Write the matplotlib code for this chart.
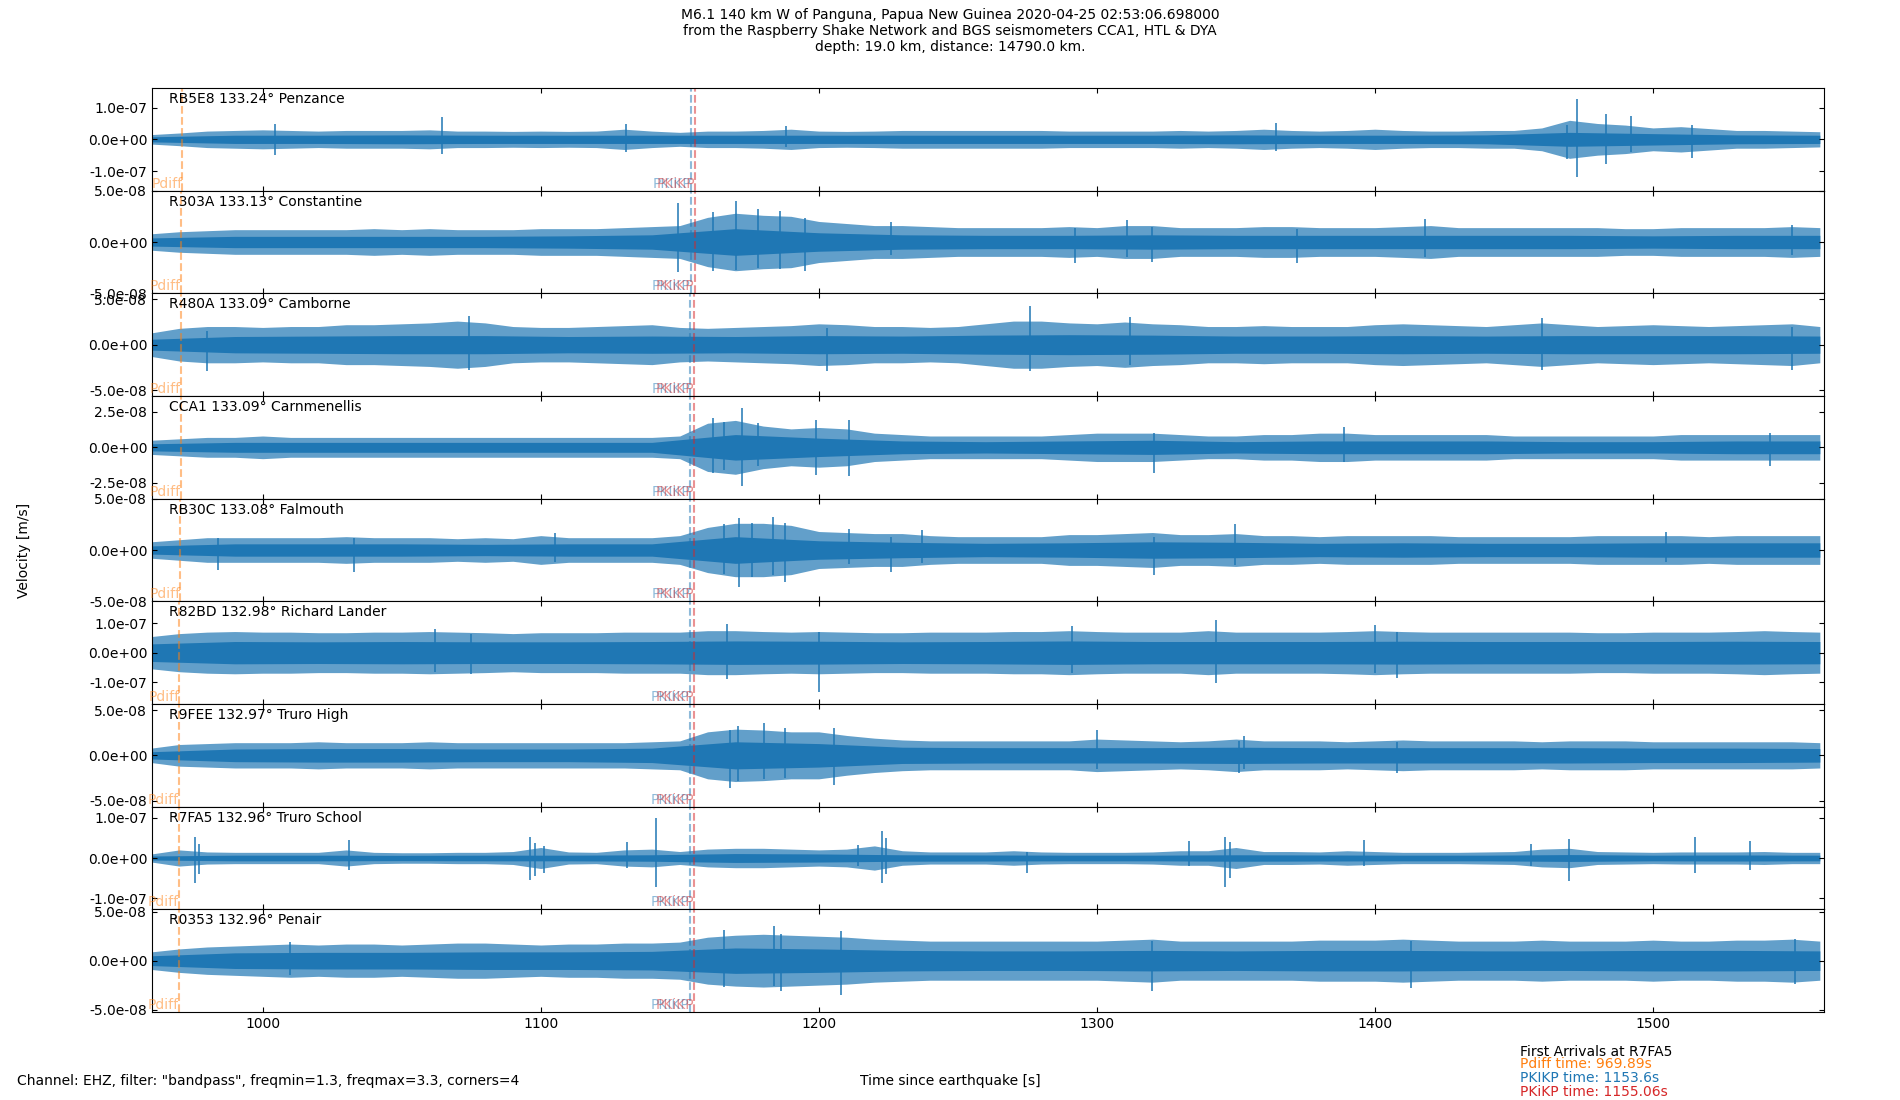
import numpy as np
import matplotlib.pyplot as plt
from matplotlib.ticker import FormatStrFormatter

# station info (top to bottom)
stations = ["RB5E8", "R303A", "R480A", "CCA1", "RB30C", "R82BD", "R9FEE", "R7FA5", "R0353"]
distances = [133.24, 133.13, 133.09, 133.09, 133.08, 132.98, 132.97, 132.96, 132.96]
places = ["Penzance", "Constantine", "Camborne", "Carnmenellis", "Falmouth",
          "Richard Lander", "Truro High", "Truro School", "Penair"]

# arrival times [s] per station
pdiff_times = [971.1, 970.7, 970.5, 970.5, 970.4, 970.0, 969.9, 969.89, 969.89]
pkikp_times = [1154.0, 1153.9, 1153.8, 1153.8, 1153.8, 1153.6, 1153.6, 1153.6, 1153.6]
pkikp_inner_times = [1155.4, 1155.3, 1155.2, 1155.2, 1155.2, 1155.1, 1155.1, 1155.06, 1155.06]

# trace envelopes, units of 1e-8 m/s
env_t = np.arange(960, 1561, 10)
core_t = np.arange(960, 1561, 30)

env_rb5e8 = [1.5, 2.0, 2.6, 2.8, 3.0, 2.8, 2.6, 2.8, 2.8, 2.8, 3.0, 2.6, 2.6, 2.5, 2.6, 2.5,
             2.6, 3.2, 2.6, 2.2, 2.6, 2.6, 2.8, 3.2, 2.6, 2.5, 2.6, 2.8, 2.8, 2.8, 2.8, 2.8,
             2.8, 2.6, 2.6, 2.6, 2.6, 2.8, 2.6, 2.8, 3.2, 2.8, 2.6, 2.8, 3.2, 2.8, 2.6, 2.6,
             2.8, 2.8, 3.6, 6.0, 5.0, 4.5, 3.6, 4.0, 3.4, 2.8, 2.8, 2.6, 2.4]
core_rb5e8 = [0.8, 1.3, 1.3, 1.4, 1.3, 1.3, 1.3, 1.3, 1.3, 1.3, 1.3, 1.3, 1.3, 1.4, 1.3, 1.3,
              1.4, 2.2, 1.8, 1.4, 1.3]
spikes_rb5e8 = [(1004.6, 4.7, 5.0), (1064.4, 7.0, 4.7), (1130.8, 4.9, 3.9), (1188.3, 4.2, 2.5),
                (1364.3, 5.2, 3.7), (1469.0, 4.5, 6.3), (1472.8, 12.6, 11.9), (1483.2, 8.1, 7.9),
                (1492.0, 7.3, 4.0), (1514.0, 4.5, 6.0)]

env_r303a = [0.8, 1.0, 1.1, 1.2, 1.2, 1.2, 1.2, 1.2, 1.3, 1.2, 1.3, 1.2, 1.2, 1.2, 1.3, 1.3,
             1.3, 1.4, 1.5, 1.6, 2.4, 2.8, 2.6, 2.5, 2.0, 1.8, 1.6, 1.6, 1.5, 1.4, 1.4, 1.4,
             1.4, 1.5, 1.4, 1.6, 1.6, 1.4, 1.4, 1.4, 1.5, 1.5, 1.4, 1.4, 1.4, 1.5, 1.6, 1.4,
             1.4, 1.4, 1.4, 1.4, 1.4, 1.3, 1.3, 1.4, 1.4, 1.4, 1.4, 1.5, 1.4]
core_r303a = [0.4, 0.55, 0.55, 0.55, 0.55, 0.6, 0.7, 1.3, 0.9, 0.7, 0.65, 0.65, 0.7, 0.65,
              0.65, 0.65, 0.65, 0.65, 0.6, 0.65, 0.65]
spikes_r303a = [(1149.4, 3.8, 2.9), (1162, 2.9, 2.8), (1170.3, 4.0, 2.7), (1178, 3.2, 2.5),
                (1186, 3.0, 2.6), (1195, 2.3, 2.8), (1226, 1.9, 1.3), (1292, 1.4, 2.0),
                (1311, 2.1, 1.5), (1320, 1.5, 1.9), (1372, 1.3, 2.0), (1418, 2.2, 1.5),
                (1550, 1.7, 1.3)]

env_r480a = [1.3, 1.8, 2.0, 2.0, 1.9, 2.0, 2.0, 2.2, 2.2, 2.3, 2.4, 2.6, 2.4, 2.0, 1.9, 1.9,
             2.0, 2.1, 2.2, 1.9, 1.8, 1.9, 2.0, 2.1, 2.3, 2.2, 2.0, 2.0, 1.9, 2.0, 2.3, 2.6,
             2.6, 2.4, 2.3, 2.5, 2.3, 2.2, 2.0, 2.0, 2.1, 2.0, 2.0, 2.0, 2.2, 2.3, 2.2, 2.1,
             2.0, 2.2, 2.4, 2.2, 2.0, 2.1, 2.2, 2.1, 2.0, 2.1, 2.2, 2.3, 2.0]
core_r480a = [0.6, 0.9, 0.95, 1.0, 1.0, 0.9, 0.95, 0.9, 1.0, 0.95, 1.05, 1.1, 1.05, 0.95,
              0.95, 1.0, 0.95, 1.0, 1.0, 1.0, 0.95]
spikes_r480a = [(980, 1.5, 2.9), (1074.2, 3.2, 2.8), (1203, 1.8, 2.9), (1276, 4.3, 2.9),
                (1312, 3.0, 2.2), (1460, 2.9, 2.8), (1550, 2.0, 2.8)]

env_cca1 = [0.5, 0.6, 0.7, 0.7, 0.8, 0.7, 0.7, 0.7, 0.7, 0.7, 0.7, 0.7, 0.7, 0.7, 0.7, 0.7,
            0.7, 0.7, 0.7, 0.8, 1.7, 1.9, 1.5, 1.3, 1.4, 1.3, 1.0, 0.9, 0.8, 0.8, 0.8, 0.8,
            0.8, 0.9, 1.0, 1.0, 1.0, 0.9, 0.8, 0.8, 0.9, 0.9, 1.0, 1.0, 0.9, 0.9, 0.9, 0.9,
            0.9, 0.8, 0.8, 0.8, 0.8, 0.8, 0.8, 0.9, 0.9, 0.9, 0.9, 0.9, 0.9]
core_cca1 = [0.25, 0.35, 0.35, 0.35, 0.35, 0.35, 0.35, 0.9, 0.65, 0.45, 0.4, 0.45, 0.5, 0.4,
             0.45, 0.45, 0.45, 0.4, 0.4, 0.45, 0.45]
spikes_cca1 = [(1162, 2.1, 1.8), (1166, 1.8, 1.6), (1172.5, 2.75, 2.75), (1178, 1.7, 1.3),
               (1199, 1.9, 1.95), (1211, 1.9, 2.0), (1320.5, 1.0, 1.8), (1389, 1.4, 1.0),
               (1542, 1.0, 1.3)]

env_rb30c = [0.8, 1.0, 1.2, 1.2, 1.2, 1.2, 1.2, 1.3, 1.2, 1.2, 1.2, 1.1, 1.2, 1.1, 1.4, 1.2,
             1.2, 1.2, 1.2, 1.4, 2.2, 2.6, 2.6, 2.4, 1.8, 1.7, 1.6, 1.6, 1.4, 1.3, 1.3, 1.3,
             1.3, 1.5, 1.5, 1.6, 1.7, 1.5, 1.5, 1.6, 1.4, 1.4, 1.3, 1.4, 1.4, 1.4, 1.4, 1.3,
             1.3, 1.3, 1.3, 1.3, 1.4, 1.4, 1.4, 1.4, 1.3, 1.4, 1.4, 1.4, 1.4]
core_rb30c = [0.4, 0.6, 0.6, 0.6, 0.55, 0.6, 0.6, 1.3, 0.9, 0.75, 0.65, 0.7, 0.8, 0.75,
              0.65, 0.7, 0.65, 0.65, 0.7, 0.7, 0.7]
spikes_rb30c = [(984, 1.2, 1.9), (1033, 1.2, 2.1), (1105, 1.7, 1.2), (1166, 2.5, 2.3),
                (1171.3, 3.1, 3.6), (1176, 2.6, 2.6), (1183.5, 3.2, 2.4), (1188, 2.6, 3.1),
                (1211, 2.0, 1.4), (1226, 1.3, 2.1), (1237, 1.9, 1.3), (1320.5, 1.3, 2.4),
                (1349.5, 2.5, 1.5), (1504.7, 1.8, 1.2)]

env_r82bd = [5.5, 6.5, 7.0, 7.2, 7.0, 7.0, 6.8, 6.8, 7.0, 7.0, 7.2, 7.0, 6.8, 6.5, 6.8, 6.8,
             6.8, 7.0, 7.0, 7.0, 7.5, 7.5, 7.2, 7.0, 7.2, 7.0, 6.8, 6.8, 7.0, 7.0, 7.0, 7.2,
             7.2, 7.5, 7.2, 7.0, 7.0, 7.0, 7.5, 7.0, 7.0, 7.0, 7.0, 7.2, 7.5, 7.2, 7.0, 7.0,
             7.0, 7.0, 7.0, 7.0, 6.8, 6.8, 7.0, 7.0, 7.0, 7.2, 7.5, 7.2, 7.0]
core_r82bd = [3.0, 3.8, 3.7, 3.8, 3.7, 3.7, 3.8, 4.0, 3.9, 3.7, 3.8, 4.0, 3.8, 3.8, 3.8,
              3.9, 3.8, 3.8, 3.8, 3.9, 3.8]
spikes_r82bd = [(1062, 8.0, 6.5), (1075, 6.5, 7.4), (1167, 9.9, 9.0), (1200, 7.0, 13.4),
                (1291, 9.1, 7.0), (1343, 11.1, 10.4), (1400, 9.3, 7.0), (1408, 7.0, 8.5)]

env_r9fee = [0.8, 1.2, 1.3, 1.4, 1.4, 1.4, 1.5, 1.4, 1.4, 1.4, 1.5, 1.4, 1.4, 1.4, 1.4, 1.4,
             1.4, 1.4, 1.5, 1.6, 2.6, 2.9, 2.8, 2.6, 2.6, 2.2, 1.9, 1.7, 1.6, 1.6, 1.6, 1.6,
             1.6, 1.6, 1.8, 1.7, 1.6, 1.5, 1.6, 1.8, 1.6, 1.6, 1.6, 1.5, 1.6, 1.7, 1.6, 1.6,
             1.6, 1.6, 1.5, 1.6, 1.6, 1.6, 1.5, 1.5, 1.5, 1.5, 1.5, 1.5, 1.4]
core_r9fee = [0.4, 0.7, 0.75, 0.75, 0.7, 0.7, 0.8, 1.5, 1.3, 0.9, 0.85, 0.85, 0.85, 0.9,
              0.85, 0.85, 0.85, 0.85, 0.8, 0.8, 0.75]
spikes_r9fee = [(1168, 2.8, 3.6), (1171, 3.2, 2.8), (1180.3, 3.6, 2.6), (1188, 3.0, 2.5),
                (1205.3, 3.0, 3.3), (1300, 2.8, 1.5), (1351, 1.6, 2.0), (1353, 2.1, 1.5),
                (1408, 1.5, 2.0)]

env_r7fa5 = [1.0, 2.0, 1.5, 1.4, 1.4, 1.4, 1.4, 2.0, 1.4, 1.3, 1.3, 1.4, 1.4, 1.6, 2.6, 1.5,
             1.4, 2.0, 2.2, 1.6, 2.2, 2.4, 2.4, 2.2, 2.0, 2.2, 3.0, 1.8, 1.5, 1.5, 1.5, 1.8,
             1.5, 1.4, 1.4, 1.4, 1.5, 1.8, 1.8, 2.6, 1.6, 1.6, 1.5, 1.8, 1.6, 1.4, 1.4, 1.4,
             1.5, 1.6, 2.2, 2.4, 1.6, 1.5, 1.4, 1.5, 1.5, 1.5, 1.6, 1.4, 1.4]
core_r7fa5 = [0.5, 0.7, 0.7, 0.65, 0.7, 0.7, 0.8, 1.1, 1.0, 0.8, 0.75, 0.7, 0.7, 0.8, 0.75,
              0.7, 0.7, 0.85, 0.7, 0.75, 0.7]
spikes_r7fa5 = [(975.6, 5.2, 6.3), (977, 3.5, 4.0), (1031, 4.4, 3.0), (1096, 5.2, 5.5),
                (1098, 3.8, 4.5), (1101, 3.0, 3.6), (1131.2, 4.0, 2.4), (1141.6, 10.0, 7.2),
                (1214, 3.1, 2.0), (1222.7, 6.6, 6.1), (1224, 5.0, 4.0), (1275, 1.5, 3.6),
                (1333, 4.2, 2.0), (1346, 5.2, 7.1), (1348, 4.0, 5.0), (1396, 4.5, 2.0),
                (1456, 3.5, 2.0), (1469.8, 4.8, 5.7), (1515, 5.2, 3.6), (1535, 4.2, 2.9)]

env_r0353 = [0.9, 1.2, 1.4, 1.5, 1.6, 1.7, 1.6, 1.7, 1.7, 1.6, 1.7, 1.8, 1.8, 1.7, 1.6, 1.7,
             1.7, 1.8, 1.8, 1.9, 2.4, 2.6, 2.7, 2.6, 2.5, 2.4, 2.2, 2.1, 2.0, 2.0, 2.0, 2.0,
             2.0, 2.0, 2.0, 2.1, 2.2, 2.0, 2.0, 2.0, 2.0, 2.0, 2.1, 2.1, 2.1, 2.2, 2.1, 2.0,
             2.0, 2.0, 2.1, 2.0, 2.0, 2.0, 2.1, 2.0, 2.0, 2.1, 2.1, 2.2, 2.0]
core_r0353 = [0.5, 0.8, 0.85, 0.85, 0.9, 0.9, 0.95, 1.3, 1.2, 1.05, 1.0, 1.0, 1.05, 1.0,
              1.05, 1.05, 1.0, 1.0, 1.05, 1.05, 1.0]
spikes_r0353 = [(1010, 1.9, 1.5), (1166, 3.1, 2.7), (1184, 3.5, 2.6), (1186.5, 2.7, 3.1),
                (1208, 3.0, 3.5), (1320, 2.0, 3.1), (1413, 2.0, 2.8), (1551, 2.2, 2.4)]

envelopes = [env_rb5e8, env_r303a, env_r480a, env_cca1, env_rb30c, env_r82bd, env_r9fee, env_r7fa5, env_r0353]
cores = [core_rb5e8, core_r303a, core_r480a, core_cca1, core_rb30c, core_r82bd, core_r9fee, core_r7fa5, core_r0353]
spikes = [spikes_rb5e8, spikes_r303a, spikes_r480a, spikes_cca1, spikes_rb30c, spikes_r82bd,
          spikes_r9fee, spikes_r7fa5, spikes_r0353]

# axis scaling per panel
y_limits = [1.62e-7, 5.0e-8, 5.66e-8, 3.62e-8, 5.0e-8, 1.75e-7, 5.68e-8, 1.27e-7, 5.25e-8]
y_ticks = [1e-7, 5e-8, 5e-8, 2.5e-8, 5e-8, 1e-7, 5e-8, 1e-7, 5e-8]

unit = 1e-8

fig, axes = plt.subplots(len(stations), 1, sharex=True, figsize=(19, 11), dpi=100)
fig.subplots_adjust(left=0.08, right=0.96, top=0.92, bottom=0.08, hspace=0)

for i, ax in enumerate(axes):
    env = np.array(envelopes[i]) * unit
    core = np.array(cores[i]) * unit
    ax.fill_between(env_t, -env, env, color='C0', alpha=0.7, lw=0)
    ax.fill_between(core_t, -core, core, color='C0', lw=0)
    for t, up, dn in spikes[i]:
        ax.vlines(t, -dn * unit, up * unit, color='C0', lw=1.1)

    ax.axvline(pdiff_times[i], color='C1', ls='--', alpha=0.5, lw=1.5)
    ax.axvline(pkikp_times[i], color='C0', ls='--', alpha=0.5, lw=1.5)
    ax.axvline(pkikp_inner_times[i], color='C3', ls='--', alpha=0.5, lw=1.5)
    tr = ax.get_xaxis_transform()
    ax.text(pdiff_times[i], 0, 'Pdiff', transform=tr, ha='right', va='bottom', color='C1', alpha=0.5)
    ax.text(pkikp_times[i], 0, 'PKIKP', transform=tr, ha='right', va='bottom', color='C0', alpha=0.5)
    ax.text(pkikp_inner_times[i], 0, 'PKiKP', transform=tr, ha='right', va='bottom', color='C3', alpha=0.5)

    ax.text(0.01, 0.96, f"{stations[i]} {distances[i]:.2f}° {places[i]}",
            transform=ax.transAxes, va='top')

    ax.set_ylim(-y_limits[i], y_limits[i])
    ax.set_yticks([-y_ticks[i], 0, y_ticks[i]])
    ax.yaxis.set_major_formatter(FormatStrFormatter('%.1e'))
    ax.tick_params(direction='in', top=True, right=True)

axes[-1].set_xlim(960.2, 1561.5)
axes[-1].set_xticks([1000, 1100, 1200, 1300, 1400, 1500])

fig.suptitle("M6.1 140 km W of Panguna, Papua New Guinea 2020-04-25 02:53:06.698000\n"
             "from the Raspberry Shake Network and BGS seismometers CCA1, HTL & DYA\n"
             "depth: 19.0 km, distance: 14790.0 km.", fontsize=10, y=0.993, va='top')
fig.text(0.009, 0.5, "Velocity [m/s]", rotation=90, va='center', ha='left')
fig.text(0.009, 0.017, 'Channel: EHZ, filter: "bandpass", freqmin=1.3, freqmax=3.3, corners=4', va='center')
fig.text(0.5, 0.017, "Time since earthquake [s]", va='center', ha='center')

fig.text(0.8, 0.0436, "First Arrivals at R7FA5", va='center')
fig.text(0.8, 0.0327, "Pdiff time: 969.89s", va='center', color='C1')
fig.text(0.8, 0.0200, "PKIKP time: 1153.6s", va='center', color='C0')
fig.text(0.8, 0.0073, "PKiKP time: 1155.06s", va='center', color='C3')

plt.savefig("out.png")
